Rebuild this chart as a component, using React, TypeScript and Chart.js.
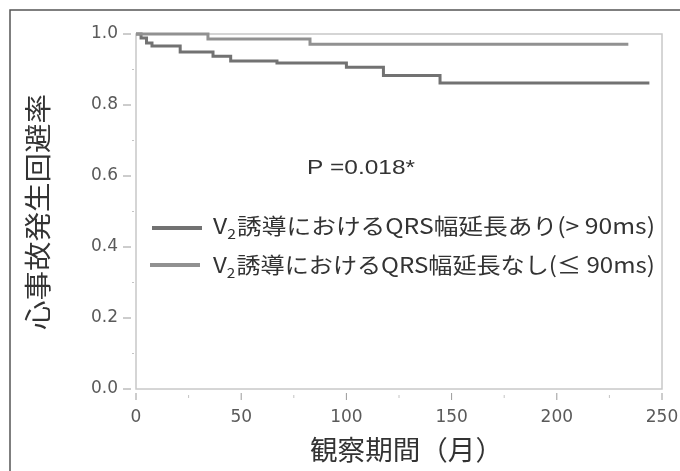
import React, { useEffect, useRef } from "react";
import { Chart, registerables } from "chart.js";

Chart.register(...registerables);

// Kaplan–Meier steps (months, event-free rate)
const prolongedTimes = [0, 2.4, 5, 7.6, 21, 36.6, 45, 67, 100, 117.6, 144.5, 244];
const prolongedSurvival = [1.0, 0.989, 0.975, 0.966, 0.949, 0.937, 0.924, 0.918, 0.906, 0.883, 0.862, 0.862];
const normalTimes = [0, 34.2, 82.7, 234];
const normalSurvival = [1.0, 0.986, 0.971, 0.971];

const xMajorTicks = [0, 50, 100, 150, 200, 250];
const xMinorTicks = [25, 75, 125, 175, 225];
const yMajorTicks = [0, 0.2, 0.4, 0.6, 0.8, 1.0];
const yMinorTicks = [0.1, 0.3, 0.5, 0.7, 0.9];

const legendPrefix = "V";
const legendSub = "2";
const legendLabels = [
  "誘導におけるQRS幅延長あり(> 90ms)",
  "誘導におけるQRS幅延長なし(≤ 90ms)",
];
const pValueText = "P =0.018*";
const yTitle = "心事故発生回避率";
const xTitle = "観察期間（月）";

const colorProlonged = "#727272";
const colorNormal = "#919191";
const JP = '"Noto Sans CJK JP", "Noto Sans", sans-serif';

function drawStretched(
  ctx: CanvasRenderingContext2D,
  text: string,
  x: number,
  y: number,
  target: number,
  font: string
) {
  ctx.save();
  ctx.font = font;
  const w = ctx.measureText(text).width;
  ctx.translate(x, y);
  ctx.scale(target / w, 1);
  ctx.textAlign = "left";
  ctx.textBaseline = "middle";
  ctx.fillText(text, 0, 0);
  ctx.restore();
}

function drawLegendText(
  ctx: CanvasRenderingContext2D,
  rest: string,
  x: number,
  y: number,
  right: number
) {
  const fMain = `22px ${JP}`;
  const fSub = `14px ${JP}`;
  ctx.save();
  ctx.font = fMain;
  const wV = ctx.measureText(legendPrefix).width;
  const wR = ctx.measureText(rest).width;
  ctx.font = fSub;
  const w2 = ctx.measureText(legendSub).width + 1;
  const total = wV + w2 + wR;
  ctx.translate(x, y);
  ctx.scale((right - x) / total, 1);
  ctx.textAlign = "left";
  ctx.textBaseline = "middle";
  ctx.font = fMain;
  ctx.fillText(legendPrefix, 0, 0);
  ctx.font = fSub;
  ctx.fillText(legendSub, wV, 8);
  ctx.font = fMain;
  ctx.fillText(rest, wV + w2, 0);
  ctx.restore();
}

const decorPlugin = {
  id: "decor",
  beforeDatasetsDraw(chart: any) {
    const ctx: CanvasRenderingContext2D = chart.ctx;
    const { left, right, top, bottom } = chart.chartArea;
    const xs = chart.scales.x;
    const ys = chart.scales.y;
    ctx.save();
    // outer frame
    ctx.strokeStyle = "#555";
    ctx.lineWidth = 1.5;
    ctx.beginPath();
    ctx.moveTo(10, 471);
    ctx.lineTo(10, 10);
    ctx.lineTo(680, 10);
    ctx.stroke();
    // plot box
    ctx.strokeStyle = "#c8c8c8";
    ctx.lineWidth = 1.5;
    ctx.strokeRect(left, top, right - left, bottom - top);
    // y ticks
    ctx.lineWidth = 1;
    ctx.strokeStyle = "#9a9a9a";
    yMajorTicks.forEach((v) => {
      const py = ys.getPixelForValue(v);
      ctx.beginPath();
      ctx.moveTo(left - 13, py);
      ctx.lineTo(left - 5, py);
      ctx.stroke();
    });
    ctx.strokeStyle = "#c4c4c4";
    yMinorTicks.forEach((v) => {
      const py = ys.getPixelForValue(v);
      ctx.beginPath();
      ctx.moveTo(left - 4, py);
      ctx.lineTo(left - 2, py);
      ctx.stroke();
    });
    // x ticks
    ctx.strokeStyle = "#9a9a9a";
    xMajorTicks.forEach((v) => {
      const px = xs.getPixelForValue(v);
      ctx.beginPath();
      ctx.moveTo(px, bottom + 4);
      ctx.lineTo(px, bottom + 11);
      ctx.stroke();
    });
    ctx.strokeStyle = "#c4c4c4";
    xMinorTicks.forEach((v) => {
      const px = xs.getPixelForValue(v);
      ctx.beginPath();
      ctx.moveTo(px, bottom + 6);
      ctx.lineTo(px, bottom + 9);
      ctx.stroke();
    });
    ctx.restore();
  },
  afterDraw(chart: any) {
    const ctx: CanvasRenderingContext2D = chart.ctx;
    ctx.save();
    ctx.fillStyle = "#333";
    // P value
    drawStretched(ctx, pValueText, 307, 168, 108, '21px "Liberation Sans", Arial, sans-serif');
    // legend
    ctx.lineWidth = 4;
    ctx.strokeStyle = colorProlonged;
    ctx.beginPath();
    ctx.moveTo(152, 228);
    ctx.lineTo(202, 228);
    ctx.stroke();
    ctx.strokeStyle = colorNormal;
    ctx.beginPath();
    ctx.moveTo(150, 265);
    ctx.lineTo(200, 265);
    ctx.stroke();
    drawLegendText(ctx, legendLabels[0], 213, 226, 655);
    drawLegendText(ctx, legendLabels[1], 213, 265, 655);
    // x title
    drawStretched(ctx, xTitle, 310, 450, 193, `27px ${JP}`);
    // y title
    ctx.save();
    ctx.translate(38, 330);
    ctx.rotate(-Math.PI / 2);
    drawStretched(ctx, yTitle, 0, 0, 236, `27px ${JP}`);
    ctx.restore();
    ctx.restore();
  },
};

export default function App() {
  const ref = useRef<HTMLCanvasElement | null>(null);
  useEffect(() => {
    if (!ref.current) return;
    const chart = new Chart(ref.current, {
      type: "line",
      data: {
        datasets: [
          {
            label: legendLabels[1],
            data: normalTimes.map((t, i) => ({ x: t, y: normalSurvival[i] })),
            borderColor: colorNormal,
            borderWidth: 3,
            pointRadius: 0,
            stepped: true,
            clip: 4,
          },
          {
            label: legendLabels[0],
            data: prolongedTimes.map((t, i) => ({ x: t, y: prolongedSurvival[i] })),
            borderColor: colorProlonged,
            borderWidth: 3,
            pointRadius: 0,
            stepped: true,
            clip: 4,
          },
        ],
      },
      options: {
        animation: false,
        responsive: false,
        layout: { padding: { top: 34, right: 18, left: 0, bottom: 0 } },
        plugins: {
          legend: { display: false },
          tooltip: { enabled: false },
          title: { display: false },
        },
        scales: {
          x: {
            type: "linear",
            min: 0,
            max: 250,
            afterBuildTicks: (s: any) => {
              s.ticks = xMajorTicks.map((v) => ({ value: v }));
            },
            afterFit: (s: any) => {
              s.height = 82;
              s.paddingLeft = 0;
              s.paddingRight = 0;
            },
            grid: { drawOnChartArea: false, drawTicks: false },
            border: { display: false },
            ticks: {
              padding: 18,
              color: "#5a5a5a",
              font: { family: '"DejaVu Sans", sans-serif', size: 17 },
              maxRotation: 0,
              callback: (v: any) => String(v),
            },
          },
          y: {
            type: "linear",
            min: 0,
            max: 1,
            afterBuildTicks: (s: any) => {
              s.ticks = yMajorTicks.map((v) => ({ value: v }));
            },
            afterFit: (s: any) => {
              s.width = 136;
              s.paddingTop = 0;
              s.paddingBottom = 0;
            },
            grid: { drawOnChartArea: false, drawTicks: false },
            border: { display: false },
            ticks: {
              padding: 18,
              color: "#5a5a5a",
              font: { family: '"DejaVu Sans", sans-serif', size: 17 },
              callback: (v: any) => Number(v).toFixed(1),
            },
          },
        },
      },
      plugins: [decorPlugin],
    });
    return () => chart.destroy();
  }, []);
  return (
    <canvas
      ref={ref}
      width={680}
      height={471}
      style={{ position: "fixed", left: 0, top: 0, display: "block", background: "#fff" }}
    />
  );
}
